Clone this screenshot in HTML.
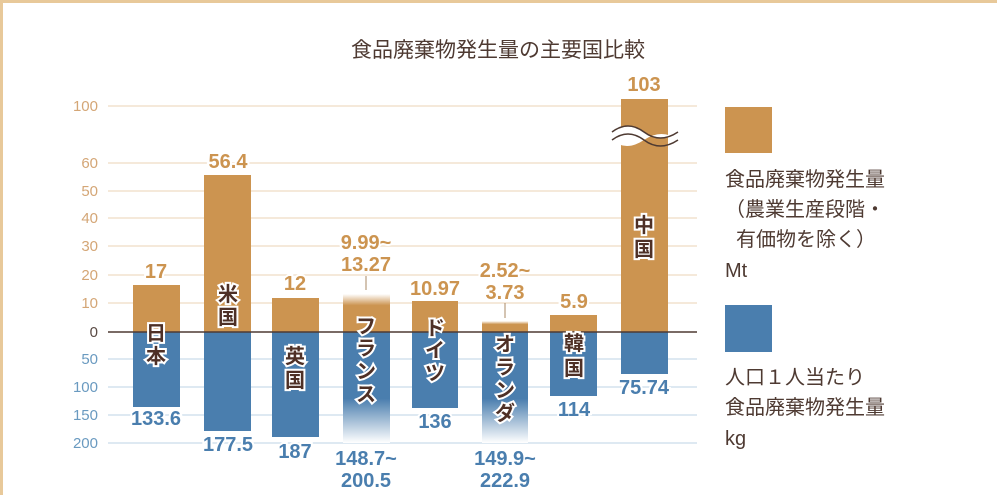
<!DOCTYPE html>
<html><head><meta charset="utf-8"><style>
body{margin:0;width:997px;height:495px;overflow:hidden;background:#fff;font-family:"Liberation Sans","Noto Sans CJK JP",sans-serif}
</style></head><body>
<svg width="997" height="495" xmlns="http://www.w3.org/2000/svg" style="position:absolute;left:0;top:0">
<defs>
<linearGradient id="fo" x1="0" y1="0" x2="0" y2="1"><stop offset="0" stop-color="#fff"/><stop offset="0.3" stop-color="#cc9450"/></linearGradient>
<linearGradient id="fb" x1="0" y1="0" x2="0" y2="1"><stop offset="0.6" stop-color="#4a7eae"/><stop offset="1" stop-color="#fff"/></linearGradient>
</defs>
<rect x="0" y="0" width="997" height="3" fill="#e8c99a"/>
<rect x="0" y="0" width="3" height="495" fill="#e8c99a"/>
<text x="498" y="57" text-anchor="middle" font-size="21" fill="#4e3a32">食品廃棄物発生量の主要国比較</text>
<g stroke="#efdcc4" stroke-width="1.3">
<line x1="108" x2="697" y1="106" y2="106"/><line x1="108" x2="697" y1="163" y2="163"/>
<line x1="108" x2="697" y1="191" y2="191"/><line x1="108" x2="697" y1="218" y2="218"/>
<line x1="108" x2="697" y1="246" y2="246"/><line x1="108" x2="697" y1="275" y2="275"/>
<line x1="108" x2="697" y1="303" y2="303"/></g>
<g stroke="#c9dcea" stroke-width="1.3">
<line x1="108" x2="697" y1="359" y2="359"/><line x1="108" x2="697" y1="387" y2="387"/>
<line x1="108" x2="697" y1="415" y2="415"/><line x1="108" x2="697" y1="443" y2="443"/></g>
<g font-size="15" text-anchor="end" fill="#d4a676">
<text x="98" y="111">100</text><text x="98" y="168">60</text><text x="98" y="196">50</text><text x="98" y="223">40</text><text x="98" y="251">30</text><text x="98" y="280">20</text><text x="98" y="308">10</text></g>
<text x="98" y="337" font-size="15" text-anchor="end" fill="#5a4a44">0</text>
<g font-size="15" text-anchor="end" fill="#6a9ac0">
<text x="98" y="364">50</text><text x="98" y="392">100</text><text x="98" y="420">150</text><text x="98" y="448">200</text></g>
<g fill="#cc9450">
<rect x="133" y="285" width="47" height="47"/><rect x="204" y="175" width="47" height="157"/>
<rect x="272" y="298" width="47" height="34"/><rect x="343" y="294" width="47" height="38" fill="url(#fo)"/>
<rect x="412" y="301" width="46" height="31"/><rect x="482" y="321" width="46" height="11" fill="url(#fo)"/>
<rect x="550" y="315" width="47" height="17"/><rect x="621" y="99" width="47" height="233"/></g>
<g fill="#4a7eae">
<rect x="133" y="332" width="47" height="75"/><rect x="204" y="332" width="47" height="99"/>
<rect x="272" y="332" width="47" height="105"/><rect x="343" y="332" width="47" height="111" fill="url(#fb)"/>
<rect x="412" y="332" width="46" height="76"/><rect x="482" y="332" width="46" height="111" fill="url(#fb)"/>
<rect x="550" y="332" width="47" height="64"/><rect x="621" y="332" width="47" height="42"/></g>
<line x1="108" x2="697" y1="332" y2="332" stroke="#4e3a32" stroke-width="1.5"/>
<path d="M612 132 Q628 120 644 132 T678 132 L678 140 Q662 128 644 140 T612 140 Z" fill="#fff"/>
<path d="M612 132 Q628 120 644 132 T678 132 M612 140 Q628 128 644 140 T678 140" fill="none" stroke="#4e3a32" stroke-width="1.5"/>
<line x1="366" y1="276" x2="366" y2="290" stroke="#aa8866"/>
<line x1="505" y1="303" x2="505" y2="318" stroke="#aa8866"/>
<g font-size="20" fill="#cc9450" text-anchor="middle" stroke="#fff" stroke-width="4" paint-order="stroke" style="font-weight:600">
<text x="156" y="278">17</text><text x="228" y="168">56.4</text><text x="295" y="290">12</text>
<text x="366" y="249">9.99~</text><text x="366" y="271">13.27</text><text x="435" y="295">10.97</text>
<text x="505" y="277">2.52~</text><text x="505" y="299">3.73</text><text x="574" y="308">5.9</text><text x="644" y="91">103</text></g>
<g font-size="20" fill="#4a7eae" text-anchor="middle" stroke="#fff" stroke-width="4" paint-order="stroke" style="font-weight:600">
<text x="156" y="425">133.6</text><text x="228" y="451">177.5</text><text x="295" y="458">187</text>
<text x="366" y="465">148.7~</text><text x="366" y="487">200.5</text><text x="435" y="428">136</text>
<text x="505" y="465">149.9~</text><text x="505" y="487">222.9</text><text x="574" y="416">114</text><text x="644" y="394">75.74</text></g>
<g font-size="20" font-weight="bold" fill="#4e3026" text-anchor="middle" stroke="#fff" stroke-width="4" paint-order="stroke">
<text x="156" y="340">日</text><text x="156" y="363">本</text>
<text x="228" y="301">米</text><text x="228" y="324">国</text>
<text x="295" y="363">英</text><text x="295" y="387">国</text>
<text x="366" y="333">フ</text><text x="366" y="355">ラ</text><text x="366" y="378">ン</text><text x="366" y="401">ス</text>
<text x="435" y="335">ド</text><text x="435" y="357">イ</text><text x="435" y="380">ツ</text>
<text x="505" y="351">オ</text><text x="505" y="374">ラ</text><text x="505" y="397">ン</text><text x="505" y="420">ダ</text>
<text x="574" y="350">韓</text><text x="574" y="375">国</text>
<text x="644" y="232">中</text><text x="644" y="256">国</text></g>
<rect x="725" y="107" width="47" height="46" fill="#cc9450"/>
<rect x="725" y="305" width="47" height="47" fill="#4a7eae"/>
<g font-size="20" fill="#4e3a32">
<text x="725" y="186">食品廃棄物発生量</text><text x="725" y="216">（農業生産段階・</text>
<text x="736" y="246">有価物を除く）</text><text x="725" y="277">Mt</text>
<text x="725" y="384">人口１人当たり</text><text x="725" y="414">食品廃棄物発生量</text><text x="725" y="445">kg</text></g>
</svg>
</body></html>
